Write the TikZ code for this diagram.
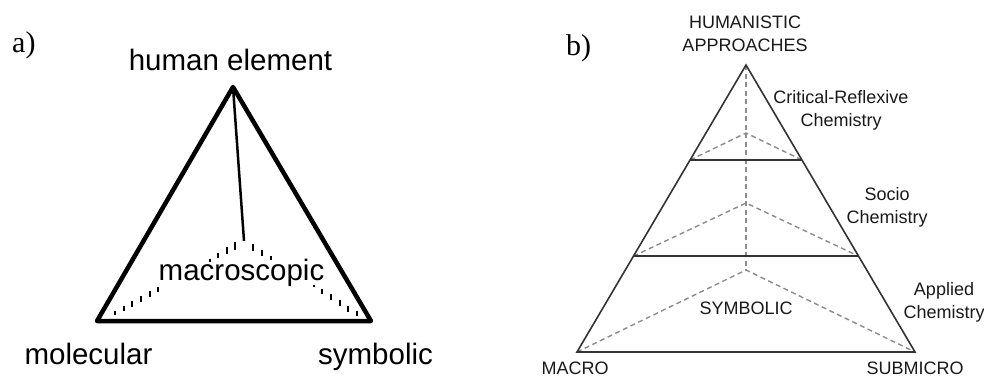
\documentclass[tikz,border=0pt]{standalone}
\usepackage{fontspec}
\setmainfont{Liberation Sans}
\newfontfamily\timesfont{Liberation Serif}
\usetikzlibrary{calc}

\begin{document}
\begin{tikzpicture}[
  x=1pt, y=-1pt,
  bigtxt/.style={font=\fontsize{29.5}{32}\selectfont, inner sep=0pt, anchor=base},
  smalltxt/.style={font=\fontsize{18}{23}\selectfont, text=black!90, inner sep=0pt, anchor=base, align=center},
  tag/.style={font=\timesfont\fontsize{30}{32}\selectfont, inner sep=0pt, anchor=base west},
  thickside/.style={line width=4.5pt, line join=round},
  solidline/.style={draw=black!80, line width=1.6pt},
  dashline/.style={draw=black!45, line width=1.4pt, dash pattern=on 5pt off 3.5pt},
  tick/.style={line width=2pt}
  ]
  \useasboundingbox (0,0) rectangle (984,378);

  % a) tetrahedron
  \node[tag] (taga) at (12,52) {a)};
  \coordinate (hum) at (233,87);
  \coordinate (mol) at (97,321);
  \coordinate (sym) at (371,321);
  \coordinate (mac) at (244,241);
  \coordinate (molin) at (112,315);
  \coordinate (symin) at (360,316);
  \draw[thickside] (hum) -- (mol) -- (sym) -- cycle;
  \draw[line width=2.5pt] (hum) -- (mac);
  \foreach \s/\h in {0.065/8,0.13/6.5,0.195/5,0.26/3,0.65/5,0.715/5.5,0.78/6,0.845/6,0.91/5.5,0.975/4}
    \draw[tick] ($(mac)!\s!(molin)$) ++(0,-\h/2) -- ++(0,\h);
  \foreach \s/\h in {0.08/7,0.155/6,0.23/4,0.6/2,0.675/5,0.75/6,0.825/6,0.9/6,0.97/5}
    \draw[tick] ($(mac)!\s!(symin)$) ++(0,-\h/2) -- ++(0,\h);
  \node[bigtxt] (humtxt) at (230.5,70) {human element};
  \node[bigtxt] (mactxt) at (241.5,280) {macroscopic};
  \node[bigtxt] (moltxt) at (88.5,364) {molecular};
  \node[bigtxt] (symtxt) at (375.5,364) {symbolic};

  % b) pyramid
  \node[tag] (tagb) at (566,55) {b)};
  \coordinate (top) at (746,65);
  \coordinate (macro) at (577,352);
  \coordinate (submicro) at (915,352);
  \coordinate (l1) at ($(top)!0.331!(macro)$);
  \coordinate (r1) at ($(top)!0.331!(submicro)$);
  \coordinate (l2) at ($(top)!0.666!(macro)$);
  \coordinate (r2) at ($(top)!0.666!(submicro)$);
  \coordinate (d1) at (746,133);
  \coordinate (d2) at (746,203);
  \coordinate (d3) at (746,270);
  \draw[dashline] (top) -- (d3);
  \draw[dashline] (l1) -- (d1) -- (r1);
  \draw[dashline] (l2) -- (d2) -- (r2);
  \draw[dashline] (macro) -- (d3) -- (submicro);
  \draw[solidline, line join=miter] (top) -- (macro) -- (submicro) -- cycle;
  \draw[solidline] (l1) -- (r1);
  \draw[solidline] (l2) -- (r2);
  \node[smalltxt] (hatxt) at (745,51) {HUMANISTIC\\APPROACHES};
  \node[smalltxt] (crtxt) at (841,126) {Critical-Reflexive\\Chemistry};
  \node[smalltxt] (sctxt) at (887,223) {Socio\\Chemistry};
  \node[smalltxt] (aptxt) at (944,318) {Applied\\Chemistry};
  \node[smalltxt] (sytxt) at (746,314) {SYMBOLIC};
  \node[smalltxt] (matxt) at (575,374) {MACRO};
  \node[smalltxt] (sutxt) at (915,374) {SUBMICRO};
\end{tikzpicture}
\end{document}
